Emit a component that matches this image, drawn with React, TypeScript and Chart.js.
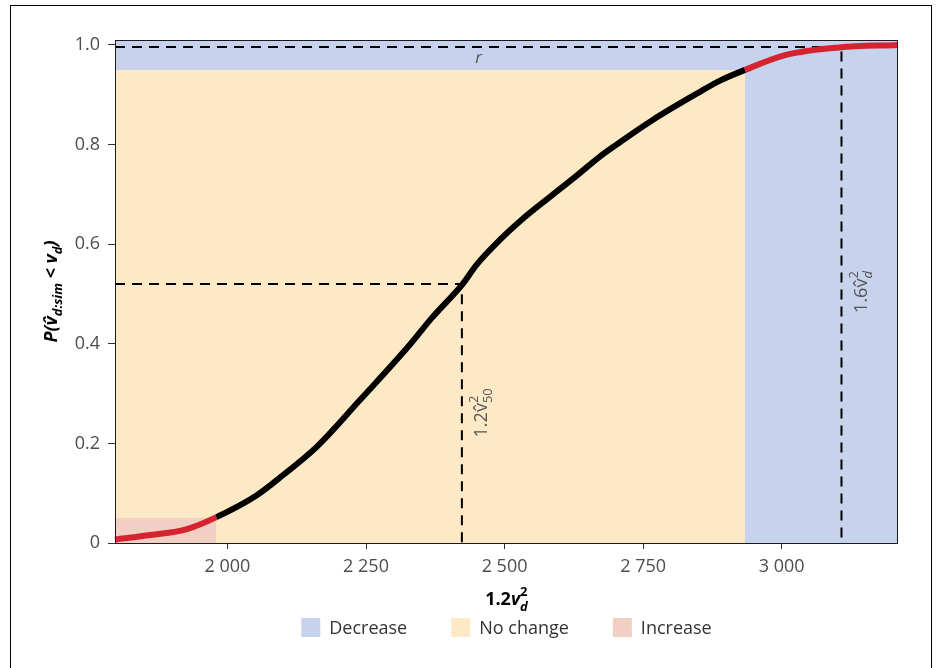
import React, { useEffect, useRef } from "react";
import { Chart, registerables } from "chart.js";

Chart.register(...registerables);

// ---------- data ----------
const cdfX = [1797, 1861, 1927, 1980, 2053, 2101, 2161, 2239, 2329, 2368, 2425, 2449, 2491, 2534, 2582, 2624, 2672, 2702, 2768, 2851, 2888, 2934, 3008, 3104, 3210];
const cdfY = [0.007, 0.016, 0.028, 0.052, 0.096, 0.137, 0.193, 0.287, 0.398, 0.451, 0.521, 0.558, 0.608, 0.652, 0.695, 0.732, 0.776, 0.8, 0.85, 0.905, 0.928, 0.95, 0.98, 0.995, 1.0];

const xMin = 1797;
const xMax = 3210;
const yMin = 0;
const yMax = 1.01;

const xTickValues = [2000, 2250, 2500, 2750, 3000];
const yTickValues = [0, 0.2, 0.4, 0.6, 0.8, 1.0];
const yTickLabels = ["0", "0.2", "0.4", "0.6", "0.8", "1.0"];

const regionNames = ["Decrease", "No change", "Increase"];
const regionColors = ["#c7d3ec", "#fee9c6", "#f2cfc3"];
const increaseMaxX = 1980;
const decreaseMinX = 2934;
const lowerP = 0.05;
const upperP = 0.95;

const medianX = 2423;
const medianP = 0.52;
const rX = 3108;
const rP = 0.996;

const lineBlack = "#000000";
const lineRed = "#d5232f";

const FAM = "'Open Sans', 'DejaVu Sans', sans-serif";

type Piece = { t: string; f: string; dy?: number };
type Seg = Piece | { sup: Piece; sub: Piece };

function segWidth(ctx: CanvasRenderingContext2D, s: Seg): number {
  if ("t" in s) {
    ctx.font = s.f;
    return ctx.measureText(s.t).width;
  }
  ctx.font = s.sup.f;
  const a = ctx.measureText(s.sup.t).width;
  ctx.font = s.sub.f;
  const b = ctx.measureText(s.sub.t).width;
  return Math.max(a, b);
}

function drawRich(ctx: CanvasRenderingContext2D, segs: Seg[], x: number, y: number, align: "left" | "center") {
  const widths = segs.map((s) => segWidth(ctx, s));
  const total = widths.reduce((a, b) => a + b, 0);
  let cx = align === "center" ? x - total / 2 : x;
  ctx.textAlign = "left";
  ctx.textBaseline = "alphabetic";
  segs.forEach((s, i) => {
    if ("t" in s) {
      ctx.font = s.f;
      ctx.fillText(s.t, cx, y + (s.dy || 0));
    } else {
      ctx.font = s.sup.f;
      ctx.fillText(s.sup.t, cx, y + (s.sup.dy || 0));
      ctx.font = s.sub.f;
      ctx.fillText(s.sub.t, cx, y + (s.sub.dy || 0));
    }
    cx += widths[i];
  });
}

const extrasPlugin = {
  id: "extras",
  afterDatasetsDraw(chart: any) {
    const ctx: CanvasRenderingContext2D = chart.ctx;
    const xs = chart.scales.x;
    const ys = chart.scales.y;
    const a = chart.chartArea;
    ctx.save();
    // panel border
    ctx.strokeStyle = "#1a1a1a";
    ctx.lineWidth = 1;
    ctx.strokeRect(Math.round(a.left) + 0.5, Math.round(a.top) + 0.5, Math.round(a.right - a.left) - 1, Math.round(a.bottom - a.top));

    // r label
    ctx.fillStyle = "#555555";
    ctx.font = `italic 17px ${FAM}`;
    ctx.textAlign = "center";
    ctx.textBaseline = "middle";
    ctx.fillText("r", xs.getPixelForValue(2453), ys.getPixelForValue(0.973));

    // rotated labels
    const reg = `18px ${FAM}`;
    const small = `13px ${FAM}`;
    const lab1: Seg[] = [
      { t: "1.2v\u0302", f: reg },
      { sup: { t: "2", f: small, dy: -9 }, sub: { t: "50", f: small, dy: 5 } },
    ];
    ctx.save();
    ctx.translate(xs.getPixelForValue(medianX) + 25, ys.getPixelForValue(0.212));
    ctx.rotate(-Math.PI / 2);
    ctx.fillStyle = "#555555";
    drawRich(ctx, lab1, 0, 0, "left");
    ctx.restore();

    const lab2: Seg[] = [
      { t: "1.6v\u0302", f: reg },
      { sup: { t: "2", f: small, dy: -9 }, sub: { t: "d", f: `italic 13px ${FAM}`, dy: 5 } },
    ];
    ctx.save();
    ctx.translate(xs.getPixelForValue(rX) + 26, ys.getPixelForValue(0.462));
    ctx.rotate(-Math.PI / 2);
    ctx.fillStyle = "#555555";
    drawRich(ctx, lab2, 0, 0, "left");
    ctx.restore();
    ctx.restore();
  },
  afterDraw(chart: any) {
    const ctx: CanvasRenderingContext2D = chart.ctx;
    const a = chart.chartArea;
    const cxp = (a.left + a.right) / 2;
    const cyp = (a.top + a.bottom) / 2;
    ctx.save();
    ctx.fillStyle = "#000000";
    const bi = `italic bold 18px ${FAM}`;
    const bis = `italic bold 13px ${FAM}`;
    const yTitle: Seg[] = [
      { t: "P(v\u0302", f: bi },
      { t: "d:sim", f: bis, dy: 5 },
      { t: " < v", f: bi },
      { t: "d", f: bis, dy: 5 },
      { t: ")", f: bi },
    ];
    ctx.save();
    ctx.translate(57, cyp);
    ctx.rotate(-Math.PI / 2);
    drawRich(ctx, yTitle, 0, 0, "center");
    ctx.restore();

    const xTitle: Seg[] = [
      { t: "1.2", f: `bold 18px ${FAM}` },
      { t: "v", f: bi },
      { sup: { t: "2", f: `bold 13px ${FAM}`, dy: -9 }, sub: { t: "d", f: bis, dy: 6 } },
    ];
    drawRich(ctx, xTitle, cxp, 605, "center");

    // legend
    ctx.font = `18px ${FAM}`;
    const box = 19;
    const gapText = 9;
    const gapItem = 44;
    const widths = regionNames.map((n) => box + gapText + ctx.measureText(n).width);
    const total = widths.reduce((p, q) => p + q, 0) + gapItem * (regionNames.length - 1);
    let lx = cxp - total / 2;
    const ly = 627.5;
    regionNames.forEach((n, i) => {
      ctx.fillStyle = regionColors[i];
      ctx.fillRect(lx, ly - box / 2, box, box);
      ctx.fillStyle = "#333333";
      ctx.textAlign = "left";
      ctx.textBaseline = "middle";
      ctx.fillText(n, lx + box + gapText, ly + 1);
      lx += widths[i] + gapItem;
    });

    // outer frame
    ctx.strokeStyle = "#000000";
    ctx.lineWidth = 1;
    ctx.strokeRect(10.5, 5.5, 921, 720);
    ctx.restore();
  },
};

export default function App() {
  const ref = useRef<HTMLCanvasElement | null>(null);
  useEffect(() => {
    if (!ref.current) return;
    const curve = cdfX.map((x, i) => ({ x, y: cdfY[i] }));
    const chart = new Chart(ref.current, {
      type: "line",
      data: {
        datasets: [
          {
            label: "curve",
            data: curve,
            borderWidth: 6,
            borderColor: lineBlack,
            pointRadius: 0,
            cubicInterpolationMode: "monotone",
            borderCapStyle: "butt",
            segment: {
              borderColor: (c: any) =>
                c.p1.parsed.x <= increaseMaxX || c.p0.parsed.x >= decreaseMinX ? lineRed : lineBlack,
            },
            fill: false,
            order: 0,
            clip: 4,
          } as any,
          {
            label: "median",
            data: [
              { x: xMin, y: medianP },
              { x: medianX, y: medianP },
              { x: medianX, y: yMin },
            ],
            borderWidth: 2,
            borderColor: "#000",
            borderDash: [10, 7],
            pointRadius: 0,
            tension: 0,
            fill: false,
            order: 1,
          },
          {
            label: "r",
            data: [
              { x: xMin, y: rP },
              { x: rX, y: rP },
              { x: rX, y: yMin },
            ],
            borderWidth: 2,
            borderColor: "#000",
            borderDash: [10, 7],
            pointRadius: 0,
            tension: 0,
            fill: false,
            order: 1,
          },
          {
            label: regionNames[2],
            data: [
              { x: xMin, y: lowerP },
              { x: increaseMaxX, y: lowerP },
            ],
            borderWidth: 0,
            pointRadius: 0,
            backgroundColor: regionColors[2],
            fill: "origin",
            order: 2,
          },
          {
            label: regionNames[1],
            data: [
              { x: xMin, y: upperP },
              { x: decreaseMinX, y: upperP },
            ],
            borderWidth: 0,
            pointRadius: 0,
            backgroundColor: regionColors[1],
            fill: "origin",
            order: 3,
          },
          {
            label: regionNames[0],
            data: [
              { x: xMin, y: yMin },
              { x: xMax, y: yMin },
            ],
            borderWidth: 0,
            pointRadius: 0,
            backgroundColor: regionColors[0],
            fill: "end",
            order: 4,
          },
        ],
      },
      options: {
        animation: false,
        responsive: false,
        maintainAspectRatio: false,
        layout: { padding: { left: 10, right: 38, top: 40, bottom: 0 } },
        plugins: { legend: { display: false }, tooltip: { enabled: false } },
        scales: {
          x: {
            type: "linear",
            min: xMin,
            max: xMax,
            afterBuildTicks: (s: any) => {
              s.ticks = xTickValues.map((v) => ({ value: v }));
            },
            afterFit: (s: any) => {
              s.height = 125;
            },
            ticks: {
              color: "#4d4d4d",
              font: { family: FAM, size: 18 },
              padding: 7,
              maxRotation: 0,
              autoSkip: false,
              callback: (v: any) => String(v).replace(/\B(?=(\d{3})+(?!\d))/g, " "),
            },
            grid: { display: true, drawOnChartArea: false, drawTicks: true, tickLength: 6, color: "#333", tickColor: "#333" },
            border: { display: false },
          },
          y: {
            type: "linear",
            min: yMin,
            max: yMax,
            afterBuildTicks: (s: any) => {
              s.ticks = yTickValues.map((v) => ({ value: v }));
            },
            afterFit: (s: any) => {
              s.width = 105;
            },
            ticks: {
              color: "#4d4d4d",
              font: { family: FAM, size: 18 },
              padding: 8,
              autoSkip: false,
              callback: (v: any) => {
                const i = yTickValues.indexOf(v);
                return i >= 0 ? yTickLabels[i] : "";
              },
            },
            grid: { display: true, drawOnChartArea: false, drawTicks: true, tickLength: 7, color: "#333", tickColor: "#333" },
            border: { display: false },
          },
        },
      },
      plugins: [extrasPlugin],
    });
    return () => chart.destroy();
  }, []);
  return (
    <div style={{ position: "absolute", left: 0, top: 0, width: 936, height: 668, background: "#fff" }}>
      <canvas ref={ref} width={936} height={668} style={{ width: 936, height: 668, display: "block" }} />
    </div>
  );
}
